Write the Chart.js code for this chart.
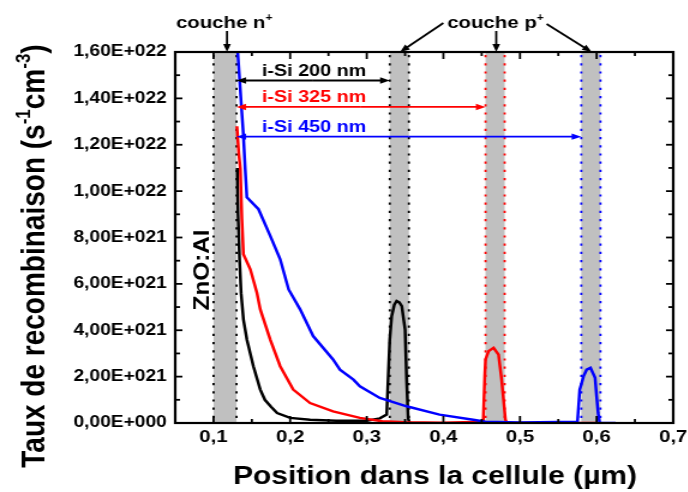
<!DOCTYPE html>
<html>
<head>
<meta charset="utf-8">
<script src="https://cdn.jsdelivr.net/npm/chart.js@4.4.1/dist/chart.umd.min.js"></script>
<style>
  html, body { margin: 0; padding: 0; background: #fff; overflow: hidden; }
  /* figure is drawn narrow and widened by 1.2 */
  #rateChart { display: block; width: 573px; height: 492px; transform: scaleX(1.2); transform-origin: 0 0; }
</style>
</head>
<body>
<canvas id="rateChart" width="573" height="492"></canvas>
<script>
// axis ticks
const xTickValues = [0.1, 0.2, 0.3, 0.4, 0.5, 0.6, 0.7];
const xTickLabels = ['0,1', '0,2', '0,3', '0,4', '0,5', '0,6', '0,7'];
const yTickValues = [0, 2e21, 4e21, 6e21, 8e21, 10e21, 12e21, 14e21, 16e21];
const yTickLabels = ['0,00E+000', '2,00E+021', '4,00E+021', '6,00E+021', '8,00E+021',
  '1,00E+022', '1,20E+022', '1,40E+022', '1,60E+022'];

// doped layers (µm)
const nLayer = [0.10, 0.13];
const pLayerStart = [0.330, 0.455, 0.580];
const pLayerEnd = [0.355, 0.480, 0.605];
const layerColors = ['#000000', '#ff0000', '#0000ff'];
const intrinsicLabels = ['i-Si 200 nm', 'i-Si 325 nm', 'i-Si 450 nm'];
const arrowRate = [14.77e21, 13.63e21, 12.35e21];

// recombination rate, i-Si 200 nm
const blackPos = [0.131, 0.132, 0.134, 0.136, 0.139, 0.1435, 0.152, 0.161, 0.167, 0.175, 0.183, 0.200,
  0.226, 0.260, 0.300, 0.317, 0.326, 0.330, 0.3325, 0.336, 0.339, 0.3425, 0.3457, 0.350, 0.352, 0.354, 0.356];
const blackRate = [11.0e21, 9.0e21, 7.0e21, 5.6e21, 4.47e21, 3.6e21, 2.45e21, 1.44e21, 1.0e21, 0.7e21, 0.43e21, 0.22e21,
  0.14e21, 0.10e21, 0.10e21, 0.2e21, 0.36e21, 3.6e21, 4.6e21, 5.1e21, 5.26e21, 5.2e21, 5.04e21, 4.03e21, 1.87e21, 0.2e21, 0];

// i-Si 325 nm
const redPos = [0.1305, 0.133, 0.135, 0.137, 0.139, 0.148, 0.1566, 0.161, 0.174, 0.187, 0.204, 0.226,
  0.256, 0.291, 0.320, 0.350, 0.400, 0.452, 0.454, 0.455, 0.459, 0.4655, 0.472, 0.476, 0.481, 0.483, 0.550, 0.600];
const redRate = [12.8e21, 11.6e21, 10.96e21, 8.8e21, 7.28e21, 6.63e21, 5.62e21, 4.9e21, 3.6e21, 2.45e21, 1.44e21, 0.86e21,
  0.5e21, 0.22e21, 0.08e21, 0.03e21, 0.01e21, 0.05e21, 2.0e21, 2.74e21, 3.1e21, 3.24e21, 2.95e21, 1.87e21, 0.14e21, 0, 0, 0];

// i-Si 450 nm
const bluePos = [0.1295, 0.139, 0.1413, 0.1435, 0.1587, 0.174, 0.187, 0.198, 0.213, 0.230, 0.256, 0.265,
  0.2826, 0.291, 0.317, 0.352, 0.395, 0.439, 0.455, 0.500, 0.575, 0.578, 0.583, 0.587, 0.592, 0.598, 0.600,
  0.602, 0.604, 0.625];
const blueRate = [17.0e21, 12.4e21, 10.96e21, 9.73e21, 9.22e21, 8.07e21, 7.06e21, 5.76e21, 4.9e21, 3.75e21, 2.74e21, 2.3e21,
  1.87e21, 1.58e21, 1.08e21, 0.72e21, 0.36e21, 0.14e21, 0.05e21, 0.02e21, 0.05e21, 1.44e21, 2.02e21, 2.3e21,
  2.38e21, 1.95e21, 1.15e21, 0.43e21, 0, 0];

const FONT = '"Liberation Sans", Arial, sans-serif';

function toPoints(xs, ys) {
  return xs.map((x, i) => ({ x: x, y: ys[i] }));
}

function isMajor(list, v) {
  return list.some(m => Math.abs(m - v) < 1e-9 * Math.max(1, Math.abs(m)));
}

function line(ctx, x1, y1, x2, y2) {
  ctx.beginPath();
  ctx.moveTo(x1, y1);
  ctx.lineTo(x2, y2);
  ctx.stroke();
}

function arrowHead(ctx, x, y, angle) {
  ctx.save();
  ctx.translate(x, y);
  ctx.rotate(angle);
  ctx.beginPath();
  ctx.moveTo(0, 0);
  ctx.lineTo(-8, -3.2);
  ctx.lineTo(-8, 3.2);
  ctx.closePath();
  ctx.fill();
  ctx.restore();
}

function arrow(ctx, x1, y1, x2, y2, color) {
  const a = Math.atan2(y2 - y1, x2 - x1);
  ctx.strokeStyle = color;
  ctx.fillStyle = color;
  ctx.lineWidth = 1.8;
  line(ctx, x1, y1, x2 - Math.cos(a) * 6, y2 - Math.sin(a) * 6);
  arrowHead(ctx, x2, y2, a);
}

// text made of plain and superscript runs, centred on x
function richText(ctx, parts, x, y, size) {
  const supSize = Math.round(size * 0.6);
  let total = 0;
  parts.forEach(p => {
    ctx.font = 'bold ' + (p.sup ? supSize : size) + 'px ' + FONT;
    p.w = ctx.measureText(p.t).width;
    total += p.w;
  });
  let cx = x - total / 2;
  ctx.textAlign = 'left';
  ctx.textBaseline = 'alphabetic';
  parts.forEach(p => {
    ctx.font = 'bold ' + (p.sup ? supSize : size) + 'px ' + FONT;
    ctx.fillText(p.t, cx, p.sup ? y - size * 0.42 : y);
    cx += p.w;
  });
}

const layersPlugin = {
  id: 'cellLayers',
  beforeDatasetsDraw(chart) {
    const ctx = chart.ctx;
    const xs = chart.scales.x;
    const { top, bottom } = chart.chartArea;
    const bands = [[nLayer[0], nLayer[1], '#000000']];
    pLayerStart.forEach((s, i) => bands.push([s, pLayerEnd[i], layerColors[i]]));
    ctx.save();
    bands.forEach(b => {
      const x1 = xs.getPixelForValue(b[0]);
      const x2 = xs.getPixelForValue(b[1]);
      ctx.fillStyle = '#c0c0c0';
      ctx.fillRect(x1, top, x2 - x1, bottom - top);
    });
    ctx.setLineDash([2.2, 6]);
    ctx.lineWidth = 1.8;
    bands.forEach(b => {
      ctx.strokeStyle = b[2];
      line(ctx, xs.getPixelForValue(b[0]), top + 3, xs.getPixelForValue(b[0]), bottom);
      line(ctx, xs.getPixelForValue(b[1]), top + 3, xs.getPixelForValue(b[1]), bottom);
    });
    ctx.restore();
  },
  afterDatasetsDraw(chart) {
    const ctx = chart.ctx;
    const xs = chart.scales.x;
    const ys = chart.scales.y;
    const { left, right, top, bottom } = chart.chartArea;
    ctx.save();

    // frame
    ctx.strokeStyle = '#000';
    ctx.lineWidth = 2.2;
    ctx.strokeRect(left, top, right - left, bottom - top);

    // inward ticks on all four sides
    ctx.lineWidth = 1.8;
    xs.ticks.forEach(t => {
      const px = xs.getPixelForValue(t.value);
      const len = isMajor(xTickValues, t.value) ? 7 : 4;
      line(ctx, px, bottom, px, bottom - len);
      line(ctx, px, top, px, top + len);
    });
    ys.ticks.forEach(t => {
      const py = ys.getPixelForValue(t.value);
      const len = isMajor(yTickValues, t.value) ? 6 : 4;
      line(ctx, left, py, left + len, py);
      line(ctx, right, py, right - len, py);
    });

    // tick labels
    ctx.fillStyle = '#000';
    ctx.font = 'bold 17px ' + FONT;
    ctx.textAlign = 'center';
    ctx.textBaseline = 'alphabetic';
    xTickValues.forEach((v, i) => ctx.fillText(xTickLabels[i], xs.getPixelForValue(v), bottom + 19));
    ctx.font = 'bold 16px ' + FONT;
    ctx.textAlign = 'right';
    ctx.textBaseline = 'middle';
    yTickValues.forEach((v, i) => ctx.fillText(yTickLabels[i], left - 7, ys.getPixelForValue(v)));

    // axis titles
    ctx.textAlign = 'center';
    ctx.textBaseline = 'alphabetic';
    ctx.font = 'bold 25px ' + FONT;
    ctx.fillText('Position dans la cellule (µm)', (left + right) / 2 + 9, 484);
    ctx.save();
    ctx.translate(27, 256);
    ctx.rotate(-Math.PI / 2);
    richText(ctx, [
      { t: 'Taux de recombinaison (s' }, { t: '-1', sup: true },
      { t: 'cm' }, { t: '-3', sup: true }, { t: ')' }
    ], 0, 10, 28);
    ctx.restore();

    // substrate contact, set tall and narrow
    ctx.save();
    ctx.translate(xs.getPixelForValue(0.0865), ys.getPixelForValue(6.6e21));
    ctx.rotate(-Math.PI / 2);
    ctx.scale(1.35, 1);
    ctx.font = 'bold 18px ' + FONT;
    ctx.textAlign = 'center';
    ctx.textBaseline = 'middle';
    ctx.fillText('ZnO:Al', 0, 0);
    ctx.restore();

    // intrinsic layer thickness arrows
    intrinsicLabels.forEach((label, i) => {
      const y = ys.getPixelForValue(arrowRate[i]);
      const x1 = xs.getPixelForValue(nLayer[1]);
      const x2 = xs.getPixelForValue(pLayerStart[i]);
      arrow(ctx, (x1 + x2) / 2, y, x1, y, layerColors[i]);
      arrow(ctx, (x1 + x2) / 2, y, x2, y, layerColors[i]);
      ctx.fillStyle = layerColors[i];
      ctx.font = 'bold 16.5px ' + FONT;
      ctx.textAlign = 'left';
      ctx.textBaseline = 'alphabetic';
      ctx.fillText(label, xs.getPixelForValue(0.163), y - 5);
    });

    // doped layer callouts
    ctx.fillStyle = '#000';
    richText(ctx, [{ t: 'couche n' }, { t: '+', sup: true }], xs.getPixelForValue(0.114), top - 24, 17);
    richText(ctx, [{ t: 'couche p' }, { t: '+', sup: true }], xs.getPixelForValue(0.468), top - 24, 17);
    arrow(ctx, xs.getPixelForValue(0.1176), top - 21, xs.getPixelForValue(0.1176), top, '#000');
    arrow(ctx, xs.getPixelForValue(0.469), top - 21, xs.getPixelForValue(0.469), top, '#000');
    arrow(ctx, xs.getPixelForValue(0.400), top - 29, xs.getPixelForValue(0.3435), top, '#000');
    arrow(ctx, xs.getPixelForValue(0.5348), top - 28, xs.getPixelForValue(0.5935), top, '#000');

    ctx.restore();
  }
};

const ctx = document.getElementById('rateChart').getContext('2d');

function curve(label, xs, ys, color, order) {
  return {
    label: label,
    data: toPoints(xs, ys),
    borderColor: color,
    borderWidth: 2.5,
    pointRadius: 0,
    tension: 0,
    fill: false,
    order: order
  };
}

new Chart(ctx, {
  type: 'line',
  data: {
    datasets: [
      curve('i-Si 200 nm', blackPos, blackRate, '#000000', 2),
      curve('i-Si 325 nm', redPos, redRate, '#ff0000', 1),
      curve('i-Si 450 nm', bluePos, blueRate, '#0000ff', 0)
    ]
  },
  options: {
    responsive: false,
    animation: false,
    layout: { padding: { left: 0, top: 52, right: 12, bottom: 0 } },
    plugins: {
      legend: { display: false },
      tooltip: { enabled: false }
    },
    scales: {
      x: {
        type: 'linear',
        min: 0.05,
        max: 0.7,
        grid: { display: false },
        border: { display: false },
        ticks: { display: false, stepSize: 0.05, maxTicksLimit: 100 },
        afterFit(scale) { scale.height = 69; }
      },
      y: {
        type: 'linear',
        min: 0,
        max: 16e21,
        grid: { display: false },
        border: { display: false },
        ticks: { display: false, stepSize: 1e21, maxTicksLimit: 100 },
        afterFit(scale) { scale.width = 146; }
      }
    }
  },
  plugins: [layersPlugin]
});
</script>
</body>
</html>
